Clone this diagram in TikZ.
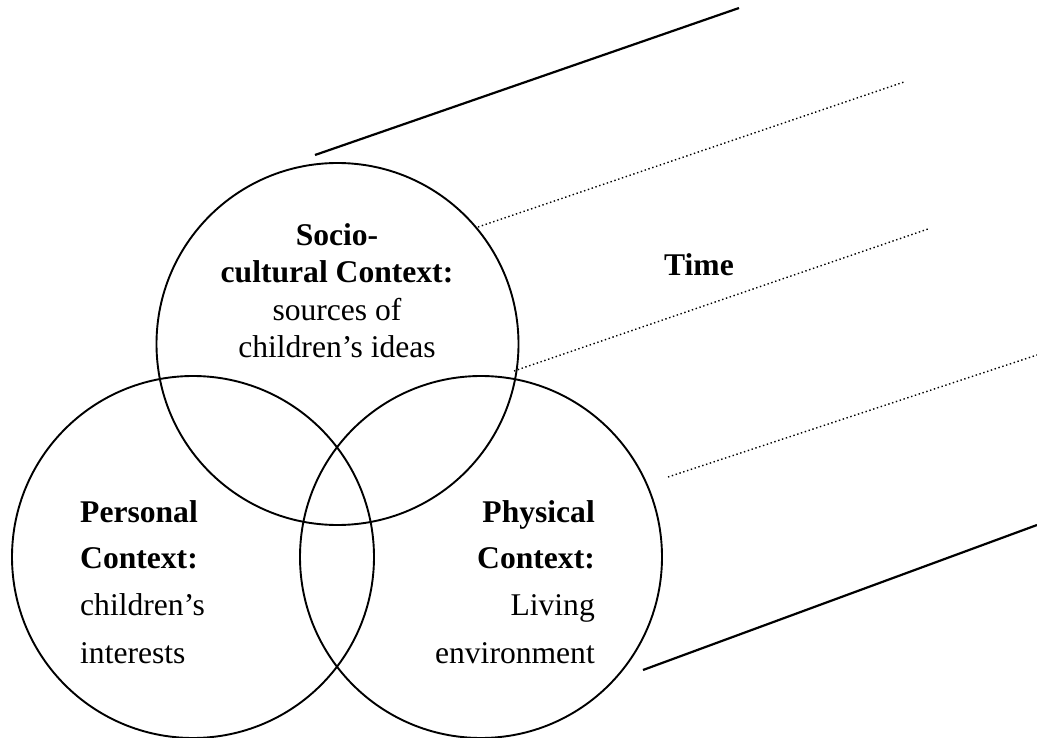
\documentclass[tikz,border=0pt]{standalone}
\usepackage{fontspec}
\setmainfont{Liberation Serif}
\begin{document}
\begin{tikzpicture}[x=1pt,y=-1pt,
  ring/.style={circle,draw,line width=1.9pt,inner sep=0pt,outer sep=0pt,minimum size=362pt},
  solidline/.style={line width=2.2pt},
  dotline/.style={line width=1.4pt,dash pattern=on 1.4pt off 2.6pt},
  txt/.style={inner sep=0pt,anchor=base,font=\fontsize{31.6}{37}\selectfont},
  btxt/.style={txt,font=\fontsize{31.6}{37}\selectfont\bfseries},
  txtl/.style={txt,anchor=base west},
  btxtl/.style={btxt,anchor=base west},
  txtr/.style={txt,anchor=base east},
  btxtr/.style={btxt,anchor=base east}]
\useasboundingbox (0,0) rectangle (1037,738);
% circles
\node[ring] (socio) at (337.5,344) {};
\node[ring] (pers) at (193,557) {};
\node[ring] (phys) at (481,557) {};
% time lines
\coordinate (s1a) at (315,155); \coordinate (s1b) at (739,8);
\coordinate (d1a) at (478,227); \coordinate (d1b) at (904,82);
\coordinate (d2a) at (514,371); \coordinate (d2b) at (928,229);
\coordinate (d3a) at (668,477); \coordinate (d3b) at (1037,355);
\coordinate (s2a) at (643,670); \coordinate (s2b) at (1037,525);
\draw[solidline] (s1a) -- (s1b);
\draw[dotline] (d1a) -- (d1b);
\draw[dotline] (d2a) -- (d2b);
\draw[dotline] (d3a) -- (d3b);
\draw[solidline] (s2a) -- (s2b);
% texts
\node[btxt] (t1) at (337,246) {Socio-};
\node[btxt] (t2) at (337,283) {cultural Context:};
\node[txt] (t3) at (337,320) {sources of};
\node[txt] (t4) at (337,357) {children’s ideas};
\node[btxtl] (p1) at (80,522) {Personal};
\node[btxtl] (p2) at (80,568) {Context:};
\node[txtl] (p3) at (80,615) {children’s};
\node[txtl] (p4) at (80,663) {interests};
\node[btxtr] (h1) at (595,522) {Physical};
\node[btxtr] (h2) at (595,568) {Context:};
\node[txtr] (h3) at (595,615) {Living};
\node[txtr] (h4) at (595,663) {environment};
\node[btxt] (time) at (699,276) {Time};
\end{tikzpicture}
\end{document}
